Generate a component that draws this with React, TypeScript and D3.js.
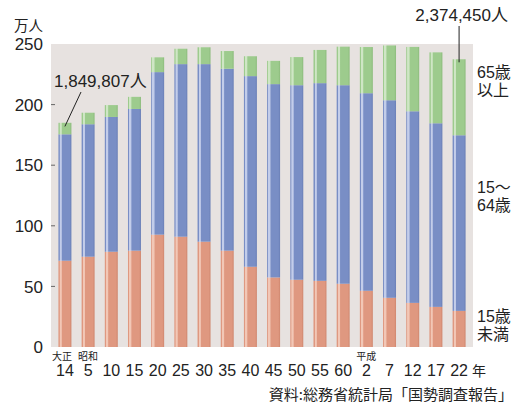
import { scaleBand, scaleLinear } from 'd3'

const years = ['14', '5', '10', '15', '20', '25', '30', '35', '40', '45', '50', '55', '60', '2', '7', '12', '17', '22']
const eraLabels = [
  { index: 0, text: '大正', dx: -3 },
  { index: 1, text: '昭和', dx: 0 },
  { index: 13, text: '平成', dx: 0 },
]

// 万人
const under15 = [71.2, 74.5, 78.6, 79.5, 92.7, 91.0, 86.9, 79.5, 66.2, 57.4, 55.5, 54.6, 52.2, 46.4, 40.6, 36.4, 33.1, 29.8]
const working = [104.3, 109.3, 111.2, 116.9, 134.1, 142.4, 146.5, 150.1, 157.3, 159.5, 160.5, 163.1, 163.8, 163.0, 163.0, 158.1, 151.5, 144.9]
const elderly = [9.5, 9.5, 9.8, 10.0, 12.2, 12.7, 13.9, 14.6, 16.4, 19.2, 23.2, 27.4, 31.8, 38.1, 45.2, 53.1, 58.5, 62.7]

const yTicks = [0, 50, 100, 150, 200, 250]

const width = 515
const height = 406

const plot = { left: 51, right: 473, top: 44, bottom: 347 }

const sans = '"Liberation Sans", Arial, "Noto Sans CJK JP", sans-serif'
const narrow = '"Liberation Sans Narrow", "Arial Narrow", "Liberation Sans", sans-serif'
const jp = '"Noto Sans CJK JP", sans-serif'

const segments = [
  { key: 'u15', values: under15, base: '#df9880', light: '#f2c7b6', dark: '#cf866e' },
  { key: 'work', values: working, base: '#798ec5', light: '#c3cdea', dark: '#6a7fb6' },
  { key: 'old', values: elderly, base: '#9dcb8d', light: '#cfe6c5', dark: '#8cbb7c' },
]

export default function App() {
  const x = scaleBand<string>()
    .domain(years.map((_, i) => String(i)))
    .range([plot.left, plot.right])
    .paddingInner(0.44)
    .paddingOuter(0.32)

  const y = scaleLinear().domain([0, 250]).range([plot.bottom, plot.top])

  const bw = x.bandwidth()
  const totals = years.map((_, i) => under15[i] + working[i] + elderly[i])

  const firstX = (x('0') ?? 0) + bw / 2
  const lastIdx = years.length - 1
  const lastX = (x(String(lastIdx)) ?? 0) + bw / 2

  return (
    <svg
      width={width}
      height={height}
      style={{ position: 'absolute', left: 0, top: 0, background: '#fff' }}
    >
      <defs>
        {segments.map((s) => (
          <linearGradient key={s.key} id={`grad-${s.key}`} x1="0" x2="1" y1="0" y2="0">
            <stop offset="0" stopColor={s.base} />
            <stop offset="0.08" stopColor={s.base} />
            <stop offset="0.1" stopColor={s.light} />
            <stop offset="0.22" stopColor={s.light} />
            <stop offset="0.3" stopColor={s.base} />
            <stop offset="0.86" stopColor={s.base} />
            <stop offset="1" stopColor={s.dark} />
          </linearGradient>
        ))}
      </defs>

      <rect
        x={plot.left}
        y={plot.top}
        width={plot.right - plot.left}
        height={plot.bottom - plot.top}
        fill="#e7e2e0"
      />

      {years.map((_, i) => {
        let acc = 0
        return (
          <g key={`bar-${i}`}>
            {segments.map((s) => {
              const v = s.values[i]
              const y0 = y(acc)
              acc += v
              const y1 = y(acc)
              return (
                <rect
                  key={s.key}
                  x={x(String(i))}
                  y={y1}
                  width={bw}
                  height={y0 - y1}
                  fill={`url(#grad-${s.key})`}
                />
              )
            })}
          </g>
        )
      })}

      {yTicks.map((t) => (
        <g key={`yt-${t}`}>
          {t > 0 && t < 250 && (
            <line x1={plot.left} x2={plot.left + 4} y1={y(t)} y2={y(t)} stroke="#666" strokeWidth={1} />
          )}
          <text
            x={43}
            y={y(t)}
            dy="0.36em"
            textAnchor="end"
            fontFamily={sans}
            fontSize={17}
            fill="#222"
          >
            {t}
          </text>
        </g>
      ))}

      <text x={14} y={31} fontFamily={jp} fontSize={14.5} fill="#222">
        万人
      </text>

      {years.map((yr, i) => (
        <text
          key={`xl-${i}`}
          x={(x(String(i)) ?? 0) + bw / 2}
          y={376}
          textAnchor="middle"
          fontFamily={narrow}
          fontSize={16}
          fill="#222"
        >
          {yr}
        </text>
      ))}
      <text x={472} y={376} fontFamily={jp} fontSize={14} fill="#222">
        年
      </text>

      {eraLabels.map((e) => (
        <text
          key={e.text}
          x={(x(String(e.index)) ?? 0) + bw / 2 + e.dx}
          y={360}
          textAnchor="middle"
          fontFamily={jp}
          fontSize={10}
          fill="#222"
        >
          {e.text}
        </text>
      ))}

      <text x={54} y={87} fontFamily={sans} fontSize={17} fill="#222">
        1,849,807<tspan fontFamily={jp}>人</tspan>
      </text>
      <line x1={81} y1={92} x2={firstX} y2={y(totals[0] - 3)} stroke="#222" strokeWidth={1} />

      <text x={508} y={21} textAnchor="end" fontFamily={sans} fontSize={17} fill="#222">
        2,374,450<tspan fontFamily={jp}>人</tspan>
      </text>
      <line x1={lastX} y1={26} x2={lastX} y2={y(totals[lastIdx] - 2.5)} stroke="#222" strokeWidth={1} />

      {[
        { t: '65歳', yy: 78 },
        { t: '以上', yy: 96 },
        { t: '15～', yy: 193 },
        { t: '64歳', yy: 211 },
        { t: '15歳', yy: 322 },
        { t: '未満', yy: 340 },
      ].map((l) => (
        <text key={l.t} x={477} y={l.yy} fontFamily={sans} fontSize={16} fill="#222">
          {l.t}
        </text>
      ))}

      <text x={513} y={400} textAnchor="end" fontFamily={jp} fontSize={15} fill="#222">
        資料:総務省統計局「国勢調査報告」
      </text>
    </svg>
  )
}
